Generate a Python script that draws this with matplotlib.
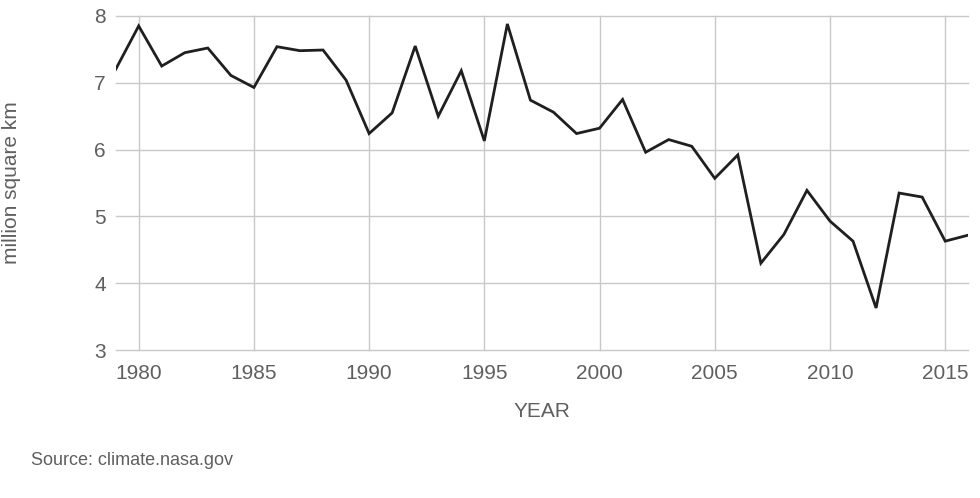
import matplotlib
matplotlib.use('Agg')
import matplotlib.pyplot as plt

years = list(range(1979, 2017))
extent = [7.20, 7.85, 7.25, 7.45, 7.52, 7.11, 6.93, 7.54, 7.48, 7.49,
          7.04, 6.24, 6.55, 7.55, 6.50, 7.18, 6.13, 7.88, 6.74, 6.56,
          6.24, 6.32, 6.75, 5.96, 6.15, 6.05, 5.57, 5.92, 4.30, 4.73,
          5.39, 4.93, 4.63, 3.63, 5.35, 5.29, 4.63, 4.72]
xticks = [1980, 1985, 1990, 1995, 2000, 2005, 2010, 2015]
yticks = [3, 4, 5, 6, 7, 8]

plt.rcParams['font.family'] = ['Liberation Sans', 'DejaVu Sans']
text_color = '#5f5f5f'

fig = plt.figure(figsize=(9.8, 4.98), dpi=100)
ax = fig.add_axes([0.118, 0.297, 0.870, 0.671])
ax.plot(years, extent, color='#1f1f1f', linewidth=2.0, solid_joinstyle='miter')

ax.set_xlim(1979, 2016)
ax.set_ylim(3, 8)
ax.set_xticks(xticks)
ax.set_yticks(yticks)
ax.grid(True, color='#c8c8c8', linewidth=1.0)
ax.set_axisbelow(True)
for gl in ax.get_ygridlines() + ax.get_xgridlines():
    gl.set_clip_on(False)
for s in ax.spines.values():
    s.set_visible(False)
ax.tick_params(length=0, labelsize=15, labelcolor=text_color)
ax.tick_params(axis='y', pad=7)
ax.tick_params(axis='x', pad=10)

ax.set_xlabel('YEAR', fontsize=15, color=text_color, labelpad=14)
ax.set_ylabel('million square km', fontsize=15, color=text_color, va='center')
ax.yaxis.set_label_coords(-0.122, 0.5)
fig.text(0.032, 0.067, 'Source: climate.nasa.gov', fontsize=13, color=text_color)

fig.savefig('out.png', dpi=100)
